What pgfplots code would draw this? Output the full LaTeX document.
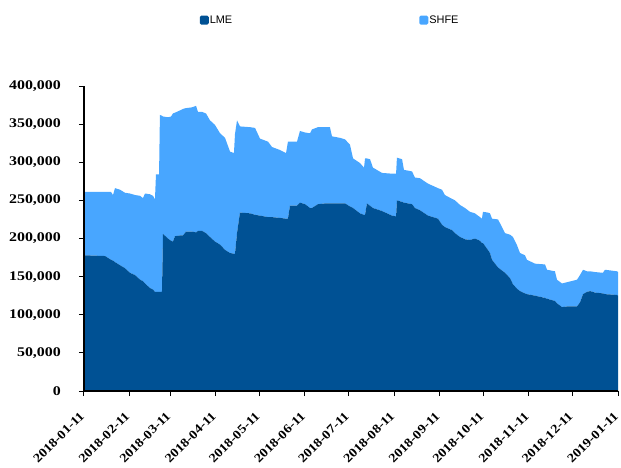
\documentclass[border=0pt]{standalone}
\usepackage{pgfplots}
\pgfplotsset{compat=1.18}
\usepackage{pgfplotstable}
\usepackage{fontspec}
\setmainfont{Liberation Serif}
\newfontfamily\tickfont[FakeStretch=1.2]{Liberation Serif}
\newfontfamily\xtickfont[FakeStretch=1.15]{Liberation Serif}
\newfontfamily\legfont{Liberation Sans}
\definecolor{lmec}{RGB}{0,81,148}
\definecolor{shfec}{RGB}{72,166,255}

\pgfplotstableread{
day LME SHFE
0.0 178000 83000
14.4 177000 84000
18.5 172000 89000
19.8 171000 86000
21.2 169000 97000
24.6 165000 99000
28.0 161000 99000
31.4 155000 104000
34.9 152000 105000
38.3 146000 110000
40.3 144000 109000
41.7 141000 118000
45.1 135000 123000
47.2 133000 123000
48.5 130000 121000
49.2 130000 154000
51.3 130000 154000
51.9 130000 232000
53.3 130000 231000
54.0 206000 154000
57.4 200000 159000
59.5 197000 163000
60.8 196000 168000
62.2 203000 162000
65.6 204000 164000
67.7 204000 166000
69.7 209000 162000
73.8 209000 163000
76.6 208000 166000
77.9 210000 156000
80.7 210000 156000
83.4 207000 157000
86.1 202000 153000
89.5 196000 153000
93.0 192000 146000
96.4 185000 147000
99.8 181000 133000
102.5 180000 132000
103.2 180000 157000
104.6 207000 148000
106.6 234000 113000
113.5 233000 113000
116.9 231000 114000
120.3 230000 101000
125.8 228000 99000
128.5 228000 92000
134.0 227000 89000
138.1 226000 86000
139.4 226000 101000
140.8 243000 84000
145.6 243000 84000
147.6 247000 94000
151.1 245000 94000
154.5 240000 98000
155.8 240000 103000
159.9 245000 101000
164.7 246000 100000
168.1 246000 100000
169.5 246000 88000
175.0 246000 86000
178.4 246000 84000
181.8 242000 81000
183.9 240000 65000
188.6 233000 66000
191.4 231000 62000
192.1 231000 74000
193.4 246000 59000
195.5 243000 61000
197.5 240000 53000
203.7 236000 50000
210.5 230000 55000
213.3 229000 56000
213.9 250000 56000
217.4 248000 56000
218.7 247000 43000
224.2 245000 43000
226.2 240000 40000
229.7 237000 42000
235.1 230000 42000
242.0 226000 40000
244.7 218000 46000
246.7 215000 42000
251.5 211000 41000
253.6 207000 43000
257.0 202000 42000
260.4 199000 41000
263.8 198000 37000
267.2 200000 33000
270.7 197000 31000
272.0 194000 32000
272.7 194000 41000
276.1 185000 49000
277.5 181000 52000
278.9 172000 54000
283.0 162000 63000
285.7 158000 57000
287.8 155000 52000
291.2 148000 57000
293.2 140000 62000
296.0 134000 57000
298.0 131000 50000
301.4 128000 50000
302.8 127000 45000
308.3 125000 42000
315.1 122000 44000
316.5 121000 38000
321.9 118000 39000
323.3 115000 31000
326.7 110000 31000
330.8 111000 32000
337.0 111000 35000
339.0 116000 36000
341.1 127000 32000
343.8 130000 27000
345.9 131000 26000
349.3 129000 27000
354.7 128000 27000
356.1 127000 32000
364.3 126000 31000
365.0 125000 31000
}\stocks

\begin{document}
\begin{tikzpicture}
\useasboundingbox (-84bp,-77bp) rectangle (537bp,391bp);
\begin{axis}[
  at={(0,0)}, anchor=south west,
  scale only axis, width=534bp, height=305bp,
  xmin=0, xmax=365, ymin=0, ymax=400000,
  stack plots=y,
  axis x line*=bottom, axis y line*=left,
  axis line style={-, black, line width=1.2bp},
  x axis line style={line width=1.8bp},
  axis on top,
  tick align=outside, major tick length=5bp,
  tick style={black, line width=1bp},
  xtick={0,31,59,90,120,151,181,212,243,273,304,334,365},
  xticklabels={2018-01-11,2018-02-11,2018-03-11,2018-04-11,2018-05-11,2018-06-11,2018-07-11,2018-08-11,2018-09-11,2018-10-11,2018-11-11,2018-12-11,2019-01-11},
  ytick={0,50000,...,400000},
  scaled y ticks=false,
  /pgf/number format/.cd, fixed, 1000 sep={,}, assume math mode=true,
  /pgfplots/.cd,
  xticklabel style={font=\xtickfont\bfseries\fontsize{12.5}{14}\selectfont,
    rotate=45, anchor=north east, inner sep=0bp, yshift=-7bp, xshift=-14bp},
  yticklabel style={font=\tickfont\bfseries\fontsize{13.3}{15}\selectfont,
    inner sep=0bp, xshift=-18bp},
  legend style={at={(0.46,1.216)}, anchor=center, draw=none, fill=none,
    legend columns=2, font=\legfont\fontsize{11}{13}\selectfont,
    /tikz/every even column/.append style={column sep=186bp},
    nodes={inner sep=1bp}},
]
\addplot[draw=none, fill=lmec,
  legend image code/.code={\fill[lmec, rounded corners=1.5bp] (0bp,-4.5bp) rectangle (9bp,4.5bp);}]
  table[x=day, y=LME] {\stocks} \closedcycle;
\addlegendentry{LME}
\addplot[draw=none, fill=shfec,
  legend image code/.code={\fill[shfec, rounded corners=1.5bp] (0bp,-4.5bp) rectangle (9bp,4.5bp);}]
  table[x=day, y=SHFE] {\stocks} \closedcycle;
\addlegendentry{SHFE}
\end{axis}
\end{tikzpicture}
\end{document}
